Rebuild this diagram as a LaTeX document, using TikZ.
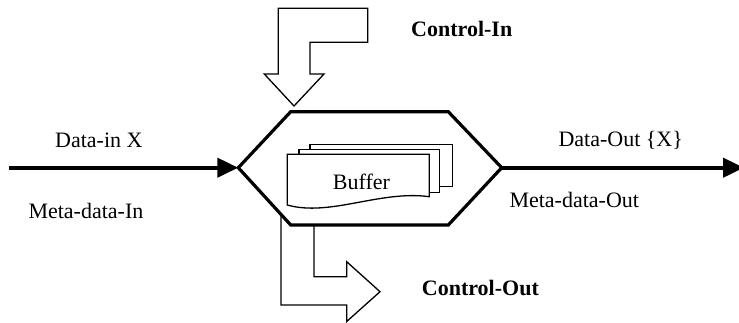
\documentclass[tikz,border=0pt]{standalone}
\usepackage{fontspec}
\setmainfont{Liberation Serif}
\usetikzlibrary{arrows.meta}
\begin{document}
\begin{tikzpicture}[x=1pt,y=-1pt,
  lbl/.style={anchor=base west,inner sep=0pt,font=\fontsize{22}{26}\selectfont},
  blbl/.style={lbl,font=\fontsize{22}{26}\selectfont\bfseries},
  dataline/.style={line width=4.2pt,-{Triangle[length=21pt,width=19pt]}},
  hexbox/.style={line width=3.2pt,line join=miter},
  ctrl/.style={line width=1.3pt,fill=white,line join=miter},
  page/.style={line width=1.3pt,fill=white}]
\useasboundingbox (0,0) rectangle (739,322);
% hexagon
\coordinate (hL) at (238.3,167.7);
\coordinate (hTL) at (290.7,111.7);
\coordinate (hTR) at (448.3,111.7);
\coordinate (hR) at (501.7,167.7);
\coordinate (hBR) at (448.3,225);
\coordinate (hBL) at (290.7,225);
% control-out arrow (behind hexagon edge)
\coordinate (coA) at (281,214);
\coordinate (coB) at (314,225);
\draw[ctrl,fill=none] (coA) -- (281,305) -- (346.7,305) -- (346.7,321.5) -- (380,291.7)
  -- (346.7,261.7) -- (346.7,276.7) -- (314,276.7) -- (coB);
\draw[hexbox] (hL) -- (hTL) -- (hTR) -- (hR) -- (hBR) -- (hBL) -- cycle;
% control-in arrow
\draw[ctrl] (278.3,8.3) -- (367.7,8.3) -- (367.7,42.3) -- (310,42.3) -- (310,74)
  -- (324,74) -- (294,106) coordinate (ciTip) -- (264.3,74) -- (278.3,74) -- cycle;
% data arrows
\coordinate (inStart) at (9,167.7);
\coordinate (outEnd) at (744,167.7);
\draw[dataline] (inStart) -- (hL);
\draw[dataline] (hR) -- (outEnd);
% buffer pages
\draw[page] (310,144.3) rectangle (452.3,186.7);
\draw[page] (299,149.7) rectangle (439.3,192.7);
\draw[page] (287.3,154.3) -- (429.3,154.3) -- (429.3,196.7)
  .. controls (380,190) and (330,217) .. (287.3,205) -- cycle;
\node[lbl] (buf) at (332.7,189.3) {Buffer};
% labels
\node[lbl] (din) at (55,147) {Data-in X};
\node[lbl] (min) at (28.3,218.3) {Meta-data-In};
\node[lbl] (dout) at (558.3,146.7) {Data-Out \{X\}};
\node[lbl] (mout) at (509.3,207) {Meta-data-Out};
\node[blbl] (cin) at (411,36) {Control-In};
\node[blbl] (cout) at (421.7,295) {Control-Out};
\end{tikzpicture}
\end{document}
